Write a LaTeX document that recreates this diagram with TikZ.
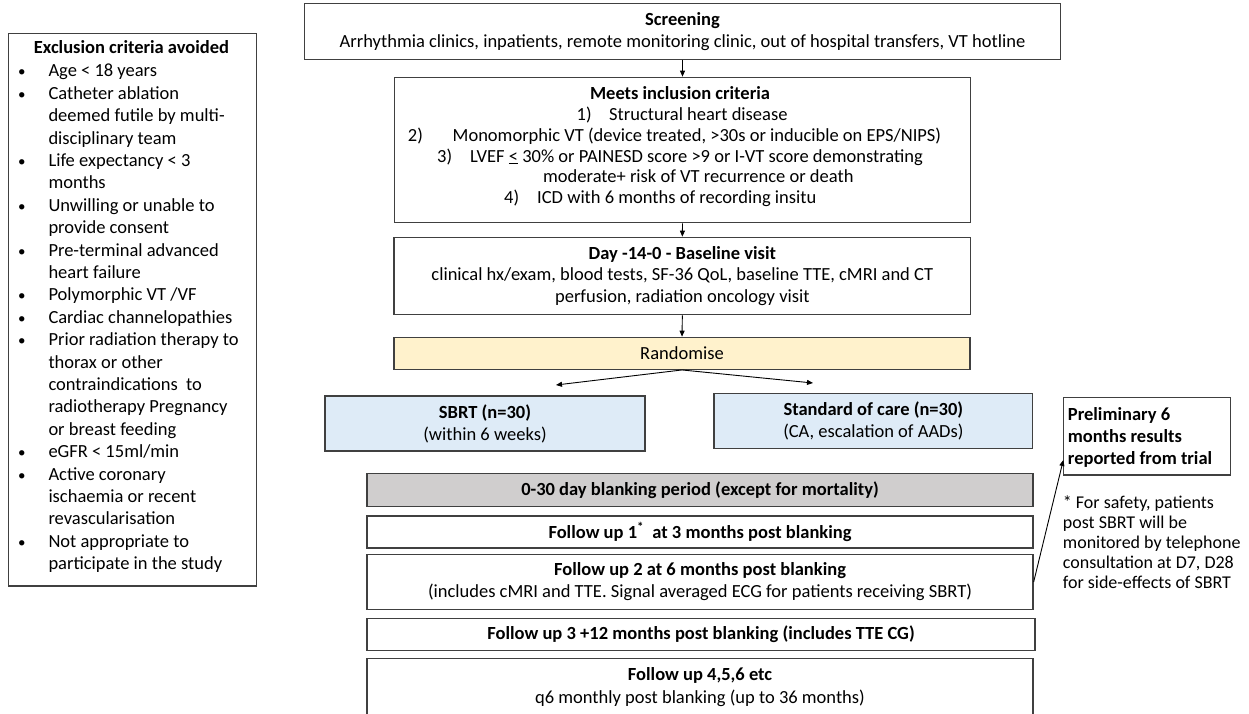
\documentclass[tikz,border=0pt]{standalone}
\usepackage{fontspec}
\setmainfont{Carlito}
\usetikzlibrary{arrows.meta}
\definecolor{bordc}{HTML}{404040}
\definecolor{yell}{HTML}{FFF2CC}
\definecolor{lblue}{HTML}{DEEBF7}
\definecolor{lgray}{HTML}{D0CECE}
\newcommand{\sk}{\rule{0pt}{13.5pt}}
\newcommand{\bl}{\llap{{\fontsize{15}{15}\selectfont\textbullet}\hspace{22.9pt}}}
\begin{document}
\begin{tikzpicture}[x=1pt,y=-1pt,
  box/.style={draw=bordc, line width=1.3pt, inner sep=0pt, align=center,
    font=\fontsize{18.5}{22}\selectfont},
  txt/.style={inner sep=0pt, font=\fontsize{18.5}{22}\selectfont},
  arr/.style={-{Triangle[length=6pt,width=5pt]}, line width=0.9pt, black}]
\useasboundingbox (0,0) rectangle (1249,713);
\clip (0,0) rectangle (1249,713);
\fill[white] (0,0) rectangle (1249,713);

% exclusion criteria
\node[box, minimum width=248.4pt, minimum height=552.7pt] (excl) at (132.5,309.65) {};
\node[txt, anchor=base, font=\fontsize{18.5}{22}\selectfont\bfseries] (exclt) at (131.5,53.3) {Exclusion criteria avoided};
\node[txt, anchor=north west, align=left, font=\fontsize{18.5}{22.4}\selectfont] (excll) at (48.3,63.2) {\sk\bl Age < 18 years\\
\bl Catheter ablation\\
deemed futile by multi-\\
disciplinary team\\
\bl Life expectancy < 3\\
months\\
\bl Unwilling or unable to\\
provide consent\\
\bl Pre-terminal advanced\\
heart failure\\
\bl Polymorphic VT /VF\\
\bl Cardiac channelopathies\\
\bl Prior radiation therapy to\\
thorax or other\\
contraindications\ \ to\\
radiotherapy Pregnancy\\
or breast feeding\\
\bl eGFR < 15ml/min\\
\bl Active coronary\\
ischaemia or recent\\
revascularisation\\
\bl Not appropriate to\\
participate in the study};

% main flow
\node[box, minimum width=756.3pt, minimum height=56pt] (scr) at (682.55,31.3)
  {\textbf{Screening}\\Arrhythmia clinics, inpatients, remote monitoring clinic, out of hospital transfers, VT hotline};
\node[box, minimum width=575.6pt, minimum height=145.4pt] (inc) at (682.5,150) {};
\node[txt, anchor=base, font=\fontsize{18.5}{22}\selectfont\bfseries] (inct) at (680,99.3) {Meets inclusion criteria};
\node[txt, anchor=base west] (inc1) at (576.5,120.5) {\makebox[32.5pt][l]{1)}Structural heart disease};
\node[txt, anchor=base west] (inc2) at (407.7,141.5) {\makebox[44.8pt][l]{2)}Monomorphic VT (device treated, >30s or inducible on EPS/NIPS)};
\node[txt, anchor=base west] (inc3) at (437,162) {\makebox[33pt][l]{3)}LVEF \underline{<} 30\% or PAINESD score >9 or I-VT score demonstrating};
\node[txt, anchor=base west] (inc3b) at (543,182.5) {moderate+ risk of VT recurrence or death};
\node[txt, anchor=base west] (inc4) at (504,203) {\makebox[33pt][l]{4)}ICD with 6 months of recording insitu};

\node[box, minimum width=576.7pt, minimum height=77.4pt, font=\fontsize{18.5}{21.7}\selectfont] (base) at (682.35,276)
  {\textbf{Day -14-0 - Baseline visit}\\clinical hx/exam, blood tests, SF-36 QoL, baseline TTE, cMRI and CT\\perfusion, radiation oncology visit};
\node[box, fill=yell, minimum width=576pt, minimum height=32pt] (rand) at (682,353.3) {Randomise};
\node[box, fill=lblue, minimum width=320pt, minimum height=55pt] (sbrt) at (485,423.5)
  {\textbf{SBRT (n=30)}\\(within 6 weeks)};
\node[box, fill=lblue, minimum width=318.7pt, minimum height=55.4pt] (soc) at (873.35,421)
  {\textbf{Standard of care (n=30)}\\(CA, escalation of AADs)};
\node[box, fill=lgray, minimum width=666pt, minimum height=33.4pt] (blank) at (700,490)
  {\textbf{0-30 day blanking period (except for mortality)}};
\node[box, minimum width=666pt, minimum height=32pt] (fu1) at (700,532)
  {\textbf{Follow up 1\textsuperscript{*}\ \ at 3 months post blanking}};
\node[box, minimum width=666pt, minimum height=54.6pt] (fu2) at (700,582)
  {\textbf{Follow up 2 at 6 months post blanking}\\(includes cMRI and TTE. Signal averaged ECG for patients receiving SBRT)};
\node[box, minimum width=668pt, minimum height=32pt] (fu3) at (701,634.5)
  {\textbf{Follow up 3 +12 months post blanking (includes TTE CG)}};
\node[box, minimum width=666pt, minimum height=81.5pt] (fu4) at (700,699.25) {};
\node[txt, anchor=north, align=center, font=\fontsize{18.5}{23}\selectfont] (fu4t) at (700,666.5)
  {\sk\textbf{Follow up 4,5,6 etc}\\q6 monthly post blanking (up to 36 months)};

% right side
\node[box, minimum width=167.4pt, minimum height=77.7pt] (prelim) at (1147,436.15) {};
\node[txt, anchor=north west, align=left, font=\fontsize{18.5}{22}\selectfont\bfseries] (prelimt) at (1067.7,406.5)
  {\sk Preliminary 6\\months results\\reported from trial};
\node[txt, anchor=north west, align=left, font=\fontsize{18}{20}\selectfont] (note) at (1062.7,494.5)
  {\sk * For safety, patients\\post SBRT will be\\monitored by telephone\\consultation at D7, D28\\for side-effects of SBRT};

% connectors
\coordinate (lh) at (556,385);
\coordinate (rh) at (813,383);
\coordinate (ptgt) at (1063.3,460);
\draw[arr] (inc.north |- scr.south) -- (inc.north);
\draw[arr] (inc.south) -- (base.north);
\draw[arr] (base.south) -- (rand.north);
\draw[arr] (rand.south) -- (lh);
\draw[arr] (rand.south) -- (rh);
\draw[arr] (fu2.east) -- (ptgt);
\end{tikzpicture}
\end{document}
